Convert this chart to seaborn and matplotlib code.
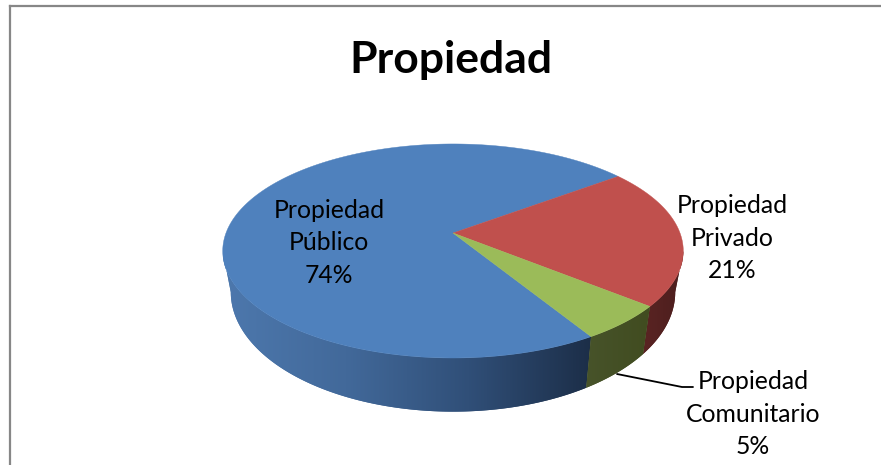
import numpy as np
import matplotlib
matplotlib.use('Agg')
import matplotlib.pyplot as plt
from matplotlib.patches import Polygon
import seaborn as sns

title = 'Propiedad'
labels = ['Propiedad\nPúblico', 'Propiedad\nPrivado', 'Propiedad\nComunitario']
percent_text = ['74%', '21%', '5%']
# slice sizes as measured on the picture, the printed labels are rounded
values = [73.5, 21.1, 5.4]
top_colors = ['#4f81bd', '#c0504d', '#9bbb59']
wall_colors = [['#4d78ad', '#42699a', '#304f78', '#1c2e48'],
               ['#5a2423', '#4c1e1d'],
               ['#47532a', '#414c20']]
label_pos = [(329, 243), (732, 238), (753, 414)]

# the picture is a tilted pie, these fit the perspective of the original
cx, cy = 453, 233
a, k, p = 227, 104, 0.168
wall_dx, wall_dy, wall_sy = 0.965, 39, 1.117
front = (189.7, 350.3)


def rim(theta, sx=1.0, dy=0, sy=1.0):
    t = np.radians(theta)
    w = 1 + p * np.sin(t)
    return np.column_stack([cx + sx * a * np.cos(t) / w,
                            cy + dy + sy * k * np.sin(t) / -w])


sns.set_theme(style='white')
plt.rcParams['font.family'] = ['Lato', 'DejaVu Sans']

fig = plt.figure(figsize=(8.81, 4.65), dpi=100)
ax = fig.add_axes([10 / 881, 0, 871 / 881, 459 / 465])

wedges, _ = ax.pie(values, startangle=301.4, counterclock=False)
spans = [(w.theta1, w.theta2) for w in wedges]
for w in wedges:
    w.remove()

ax.set_aspect('auto')
ax.set_frame_on(True)

# side walls
for (t1, t2), cols in zip(spans, wall_colors):
    for shift in (-360, 0, 360):
        lo, hi = max(t1 + shift, front[0]), min(t2 + shift, front[1])
        lo2, hi2 = max(t1 + shift, front[0] - 360), min(t2 + shift, front[1] - 360)
        for l, h in ((lo, hi), (lo2, hi2)):
            if h <= l:
                continue
            th = np.linspace(l, h, 200)
            pts = np.vstack([rim(th), rim(th[::-1], wall_dx, wall_dy, wall_sy)])
            wall = Polygon(pts, closed=True, fc='none', ec='none')
            ax.add_patch(wall)
            cmap = sns.blend_palette(cols, as_cmap=True)
            x0, x1 = pts[:, 0].min(), pts[:, 0].max()
            im = ax.imshow(np.linspace(0, 1, 256)[None, :], cmap=cmap, aspect='auto',
                           extent=(x0, x1, pts[:, 1].max(), pts[:, 1].min()), zorder=2)
            im.set_clip_path(wall)

# top of the pie
for (t1, t2), col in zip(spans, top_colors):
    th = np.linspace(t1, t2, 300)
    ax.add_patch(Polygon(np.vstack([[cx, cy], rim(th)]), closed=True, fc=col,
                         ec=col, lw=0.3, zorder=3))

ax.set_xlim(10, 881)
ax.set_ylim(465, 6)
ax.set_xticks([])
ax.set_yticks([])
for side in ['right', 'bottom']:
    ax.spines[side].set_visible(False)
for side in ['left', 'top']:
    ax.spines[side].set_color('#878787')
    ax.spines[side].set_linewidth(1.6)

ax.text(451, 60, title, fontsize=32, fontweight='bold', color='black',
        ha='center', va='center', zorder=5)
for lab, pct, (x, y) in zip(labels, percent_text, label_pos):
    ax.text(x, y, f'{lab}\n{pct}', fontsize=17.8, color='black', ha='center',
            va='center', linespacing=1.5, zorder=5)

ax.plot([617, 682, 693], [374, 387, 387], color='black', lw=1.3, zorder=4)

fig.savefig('out.png', dpi=100)
